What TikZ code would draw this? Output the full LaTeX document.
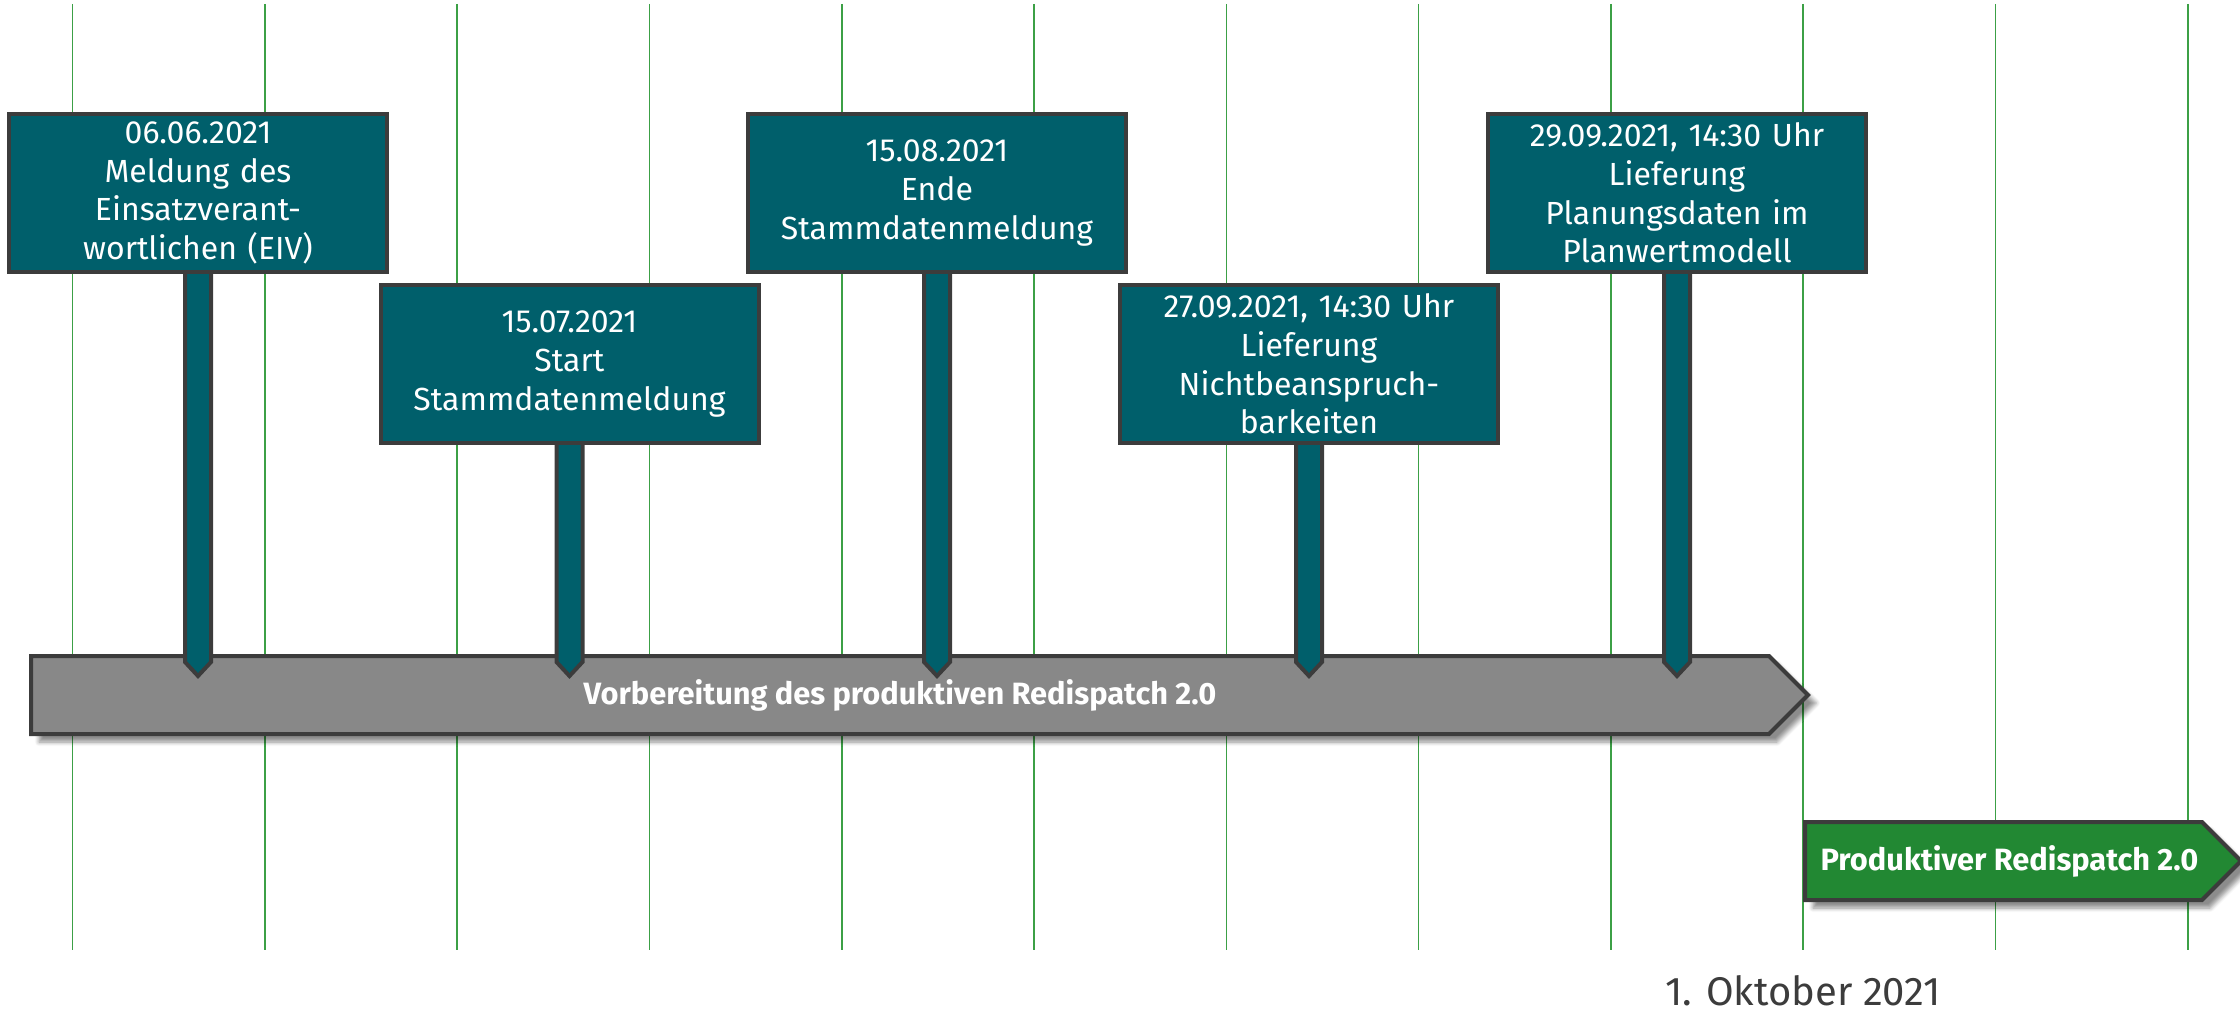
\documentclass[tikz,border=0pt]{standalone}
\usepackage{fontspec}
\setmainfont{Fira Sans}
\usetikzlibrary{positioning,shapes.symbols,shadows.blur,backgrounds}
\definecolor{petrol}{RGB}{0,95,107}
\definecolor{rahmen}{RGB}{60,60,60}
\definecolor{balkengrau}{RGB}{136,136,136}
\definecolor{gruen}{RGB}{34,136,51}
\definecolor{gitter}{RGB}{60,160,70}
\tikzset{
meilenstein/.style={
    draw=rahmen, line width=2pt, fill=petrol, rectangle,
    minimum width=189pt, minimum height=79pt, text width=185pt,
    align=center, inner sep=0pt, text=white,
    font=\fontsize{16}{19.3}\selectfont
  },
phase/.style={
    draw=rahmen, line width=2pt, signal, signal to=east,
    signal pointer angle=90, minimum height=39pt, inner sep=0pt,
    text=white, font=\fontsize{15.4}{18}\selectfont\bfseries,
    blur shadow={shadow xshift=4pt, shadow yshift=-4pt,
      shadow blur steps=6, shadow opacity=45}
  }
}
\newcommand{\stiel}[1]{%
  \draw[draw=rahmen, line width=2pt, fill=petrol]
    ([xshift=-6.5pt,yshift=2pt]#1.south) -- ([xshift=-6.5pt]#1.south |- schulter)
    -- (#1.south |- spitze) -- ([xshift=6.5pt]#1.south |- schulter)
    -- ([xshift=6.5pt,yshift=2pt]#1.south) -- cycle;}

\begin{document}
\begin{tikzpicture}[x=0.5pt, y=-0.5pt]
\useasboundingbox (0,0) rectangle (2240,1016);

\coordinate (schulter) at (0,662);
\coordinate (spitze) at (0,676);

% Meilensteine
\node[meilenstein] (eiv) at (198,193) {06.06.2021\\Meldung des\\Einsatzverant-\\wortlichen (EIV)};
\node[meilenstein] (start) at (569.5,364) {15.07.2021\\Start\\Stammdatenmeldung};
\node[meilenstein] (ende) at (937,193) {15.08.2021\\Ende\\Stammdatenmeldung};
\node[meilenstein] (nb) at (1309,364) {27.09.2021, 14:30 Uhr\\Lieferung\\Nichtbeanspruch-\\barkeiten};
\node[meilenstein] (plan) at (1677,193) {29.09.2021, 14:30 Uhr\\Lieferung\\Planungsdaten im\\Planwertmodell};

\begin{pgfonlayer}{background}
\foreach \i in {0,...,11}
  \draw[gitter, line width=0.8pt] (72.5+192.3*\i,4) -- (72.5+192.3*\i,950);

% Phasen
\node[phase, fill=balkengrau, minimum width=888.5pt, anchor=west] (vorb) at (29,695)
  {Vorbereitung des produktiven Redispatch 2.0};
\node[phase, fill=gruen, minimum width=218pt, anchor=west] (prod) at (1803,861)
  {\hspace*{6pt}Produktiver Redispatch 2.0};

\stiel{eiv}
\stiel{start}
\stiel{ende}
\stiel{nb}
\stiel{plan}
\end{pgfonlayer}

\node[text=rahmen, font=\fontsize{20}{24}\selectfont, below=33pt of prod.south west] (datum)
  {1. Oktober 2021};
\end{tikzpicture}
\end{document}
